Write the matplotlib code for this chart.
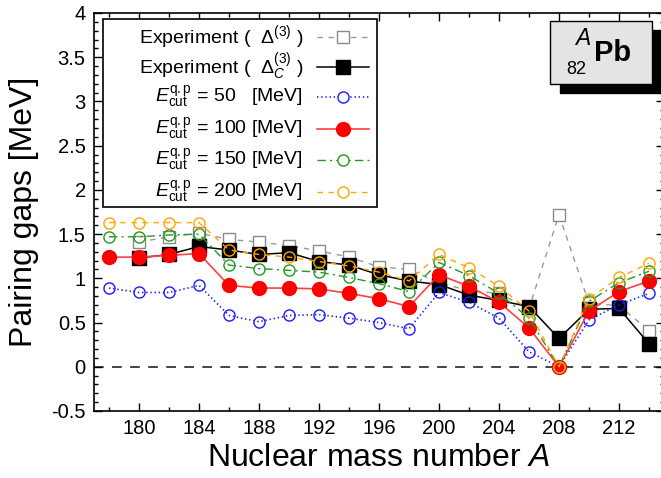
import matplotlib
matplotlib.use('Agg')
import matplotlib.pyplot as plt
from matplotlib.lines import Line2D
from matplotlib.patches import Rectangle
from matplotlib.ticker import MultipleLocator

plt.rcParams['font.family'] = ['Liberation Sans', 'DejaVu Sans']
plt.rcParams['mathtext.fontset'] = 'custom'
plt.rcParams['mathtext.rm'] = 'Liberation Sans'
plt.rcParams['mathtext.it'] = 'Liberation Sans:italic'
plt.rcParams['mathtext.bf'] = 'Liberation Sans:bold'
plt.rcParams['lines.scale_dashes'] = False

# ---------------- data ----------------
A_all = [178, 180, 182, 184, 186, 188, 190, 192, 194, 196, 198, 200, 202, 204, 206, 208, 210, 212, 214]
A_exp = [180, 182, 184, 186, 188, 190, 192, 194, 196, 198, 200, 202, 204, 206, 208, 210, 212, 214]

delta3 = [1.41, 1.47, 1.51, 1.44, 1.41, 1.37, 1.31, 1.24, 1.13, 1.10, 0.95, 0.86, 0.83, 0.66, 1.72, 0.72, 0.69, 0.41]
deltaC = [1.23, 1.27, 1.36, 1.32, 1.27, 1.29, 1.19, 1.15, 1.04, 0.97, 0.93, 0.81, 0.75, 0.68, 0.32, 0.65, 0.66, 0.26]

e50 = [0.89, 0.84, 0.84, 0.92, 0.58, 0.51, 0.58, 0.59, 0.55, 0.50, 0.43, 0.84, 0.73, 0.55, 0.17, 0.0, 0.53, 0.70, 0.83]
e100 = [1.24, 1.24, 1.26, 1.28, 0.92, 0.89, 0.89, 0.88, 0.83, 0.77, 0.68, 1.04, 0.91, 0.73, 0.44, 0.0, 0.63, 0.85, 0.97]
e150 = [1.47, 1.47, 1.49, 1.50, 1.15, 1.11, 1.09, 1.07, 1.01, 0.94, 0.85, 1.18, 1.03, 0.83, 0.55, 0.0, 0.74, 0.95, 1.08]
e200 = [1.63, 1.63, 1.63, 1.63, 1.32, 1.27, 1.24, 1.19, 1.14, 1.07, 0.97, 1.27, 1.12, 0.91, 0.63, 0.0, 0.77, 1.01, 1.17]

labels = [r'Experiment (  $\Delta^{(3)}$ )',
          r'Experiment (  $\Delta_C^{(3)}$ )',
          r'$E_{\mathrm{cut}}^{\mathrm{q.p}}$ = 50   [MeV]',
          r'$E_{\mathrm{cut}}^{\mathrm{q.p}}$ = 100 [MeV]',
          r'$E_{\mathrm{cut}}^{\mathrm{q.p}}$ = 150 [MeV]',
          r'$E_{\mathrm{cut}}^{\mathrm{q.p}}$ = 200 [MeV]']

xticks = [180, 184, 188, 192, 196, 200, 204, 208, 212]
yticks = [-0.5, 0, 0.5, 1, 1.5, 2, 2.5, 3, 3.5, 4]

# ---------------- figure ----------------
W, H = 661, 478
fig = plt.figure(figsize=(W / 100, H / 100), dpi=100)

def fx(px):
    return px / W

def fy(py):
    return 1 - py / H

ax_l, ax_r, ax_t, ax_b = 94, 664, 13, 411
ax = fig.add_axes([fx(ax_l), fy(ax_b), (ax_r - ax_l) / W, (ax_b - ax_t) / H])
ax.set_xlim(177, 215)
ax.set_ylim(-0.5, 4)

ax.axhline(0, color='#444444', lw=1.4, dashes=(7, 6), zorder=1)

styles = [
    dict(color='#9a9a9a', ls=(0, (4, 4)), lw=1.0, marker='s', ms=9, mfc='white', mec='#8a8a8a', mew=1.0),
    dict(color='black', ls='-', lw=1.1, marker='s', ms=9.5, mfc='black', mec='black', mew=1.0),
    dict(color='#1a1aff', ls=(0, (1, 2)), lw=1.2, marker='o', ms=8, mfc='none', mec='#1a1aff', mew=1.0),
    dict(color='#ff4040', ls='-', lw=1.2, marker='o', ms=10, mfc='#ff0000', mec='#ff0000', mew=1.0),
    dict(color='#229922', ls=(0, (6, 3, 1.5, 3)), lw=1.0, marker='o', ms=8, mfc='none', mec='#229922', mew=1.0),
    dict(color='#ffa500', ls=(0, (4, 4)), lw=1.0, marker='o', ms=8, mfc='none', mec='#ffa500', mew=1.0),
]

series = [(A_exp, delta3), (A_exp, deltaC), (A_all, e50), (A_all, e100), (A_all, e150), (A_all, e200)]
for i, ((xs, ys), st) in enumerate(zip(series, styles)):
    ax.plot(xs, ys, zorder=3 + i, clip_on=False, **st)

ax.set_xticks(xticks)
ax.xaxis.set_minor_locator(MultipleLocator(2))
ax.set_yticks(yticks)
ax.set_yticklabels(['-0.5', '0', '0.5', '1', '1.5', '2', '2.5', '3', '3.5', '4'])
ax.yaxis.set_minor_locator(MultipleLocator(0.1))
ax.tick_params(which='both', direction='in', top=True, right=True, labelsize=14.5, width=1.0)
ax.tick_params(which='major', length=6, pad=6)
ax.tick_params(which='minor', length=3)
for s in ax.spines.values():
    s.set_linewidth(1.2)

ax.set_xlabel(r'Nuclear mass number $A$', fontsize=23, labelpad=3)
ax.set_ylabel('Pairing gaps [MeV]', fontsize=23, labelpad=9)

# ---------------- legend (gnuplot style) ----------------
leg_l, leg_t, leg_r, leg_b = 103, 19, 377, 207
fig.add_artist(Rectangle((fx(leg_l), fy(leg_b)), (leg_r - leg_l) / W, (leg_b - leg_t) / H,
                         transform=fig.transFigure, facecolor='white', edgecolor='black', lw=1.2, zorder=20))
rows = [37, 67, 97, 129, 160, 192]
for lab, st, ry in zip(labels, styles, rows):
    fig.text(fx(303), fy(ry), lab, ha='right', va='center', fontsize=14, zorder=21)
    fig.add_artist(Line2D([fx(317), fx(369)], [fy(ry), fy(ry)], transform=fig.transFigure,
                          color=st['color'], ls=st['ls'], lw=st['lw'], zorder=21))
    fig.add_artist(Line2D([fx(343)], [fy(ry)], transform=fig.transFigure, ls='none',
                          marker=st['marker'], ms=st['ms'], mfc=st['mfc'] if st['mfc'] != 'none' else 'white',
                          mec=st['mec'], mew=st['mew'], zorder=22))

# ---------------- nucleus box ----------------
bx_l, bx_t, bx_r, bx_b = 550, 21, 652, 84
fig.add_artist(Rectangle((fx(bx_l + 10), fy(bx_b + 9)), (bx_r - bx_l) / W, (bx_b - bx_t) / H,
                         transform=fig.transFigure, facecolor='black', edgecolor='black', lw=1, zorder=30))
fig.add_artist(Rectangle((fx(bx_l), fy(bx_b)), (bx_r - bx_l) / W, (bx_b - bx_t) / H,
                         transform=fig.transFigure, facecolor='#e4e4e4', edgecolor='black', lw=1, zorder=31))
fig.text(fx(575), fy(45), 'A', fontsize=16.5, style='italic', ha='left', va='baseline', zorder=32)
fig.text(fx(566), fy(74), '82', fontsize=13, ha='left', va='baseline', zorder=32)
fig.text(fx(594), fy(61), 'Pb', fontsize=21, fontweight='bold', ha='left', va='baseline', zorder=32)

fig.savefig('out.png', dpi=100)
